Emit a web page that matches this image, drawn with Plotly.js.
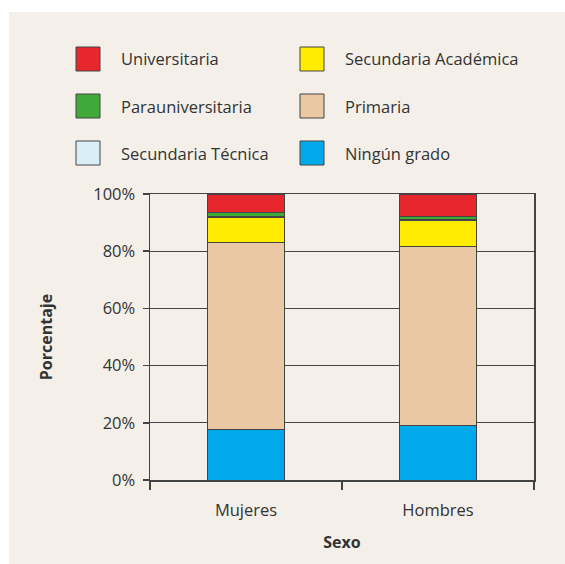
<!DOCTYPE html>
<html>
<head>
<meta charset="utf-8">
<script src="https://cdn.plot.ly/plotly-3.0.1.min.js"></script>
<style>html,body{margin:0;padding:0;background:#F4F0E9;overflow:hidden;}#chart{width:565px;height:564px;}</style>
</head>
<body>
<div id="chart"></div>
<script>
// Data
const categories = ["Mujeres", "Hombres"];
const seriesNames = ["Ningún grado", "Primaria", "Secundaria Académica", "Secundaria Técnica", "Parauniversitaria", "Universitaria"];
const ningunGrado = [17.7, 19.0];
const primaria = [65.3, 62.8];
const secAcademica = [8.7, 8.8];
const secTecnica = [0.5, 0.5];
const parauniversitaria = [1.5, 1.2];
const universitaria = [6.3, 7.7];
const yTickVals = [0, 20, 40, 60, 80, 100];
const yTickText = ["0%", "20%", "40%", "60%", "80%", "100%"];
const legendOrder = ["Universitaria", "Secundaria Académica", "Parauniversitaria", "Primaria", "Secundaria Técnica", "Ningún grado"];

const colors = {
  "Ningún grado": "#00A9E9",
  "Primaria": "#EBC8A4",
  "Secundaria Académica": "#FFEC00",
  "Secundaria Técnica": "#D9EEF6",
  "Parauniversitaria": "#3FAA3A",
  "Universitaria": "#E8262D"
};
const values = [ningunGrado, primaria, secAcademica, secTecnica, parauniversitaria, universitaria];

const font = "Open Sans, Noto Sans, sans-serif";
const txt = "#333333";
const lineC = "#444444";

const traces = seriesNames.map((n, i) => ({
  type: "bar", name: n, x: categories, y: values[i],
  marker: {color: colors[n], line: {color: lineC, width: 1}},
  width: 0.4, showlegend: false, hoverinfo: "skip"
}));

// layout geometry (pixels)
const W = 565, H = 564, L = 150, R = 31, T = 194, B = 84;
const pw = W - L - R, ph = H - T - B;
const px = x => (x - L) / pw;
const py = y => (H - B - y) / ph;

const shapes = [
  {type: "rect", xref: "paper", yref: "paper", layer: "below",
   x0: px(-20), x1: px(620), y0: py(12), y1: py(-20),
   fillcolor: "#ffffff", line: {width: 0}},
  {type: "rect", xref: "paper", yref: "paper", layer: "below",
   x0: px(-20), x1: px(9), y0: py(620), y1: py(-20),
   fillcolor: "#ffffff", line: {width: 0}}
];
const annotations = [];
const legendCols = [76, 300];
const legendRows = [59, 106, 153];
legendOrder.forEach((n, i) => {
  const c = i % 2, r = Math.floor(i / 2);
  const bx = legendCols[c], cy = legendRows[r];
  shapes.push({type: "rect", xref: "paper", yref: "paper",
    x0: px(bx), x1: px(bx + 24), y0: py(cy + 12), y1: py(cy - 12),
    fillcolor: colors[n], line: {color: lineC, width: 1}});
  annotations.push({xref: "paper", yref: "paper", x: px(bx + 43), y: py(cy),
    xanchor: "left", yanchor: "middle", showarrow: false, text: n,
    font: {family: font, size: 16.5, color: txt}});
});

const layout = {
  width: W, height: H,
  margin: {l: L, r: R, t: T, b: B, pad: 0},
  paper_bgcolor: "#F4F0E9", plot_bgcolor: "rgba(0,0,0,0)",
  barmode: "stack", bargap: 0.6,
  font: {family: font, color: txt},
  xaxis: {
    type: "category", range: [-0.5, 1.5],
    showline: true, linecolor: lineC, linewidth: 1.5, mirror: true,
    ticks: "outside", tickson: "boundaries", ticklen: 8, tickwidth: 1.5, tickcolor: lineC,
    ticklabelstandoff: 15,
    showgrid: false, tickfont: {family: font, size: 16.5, color: txt},
    title: {text: "<b>Sexo</b>", font: {family: font, size: 16, color: txt}, standoff: 16}
  },
  yaxis: {
    range: [0, 100], tickvals: yTickVals, ticktext: yTickText,
    showline: true, linecolor: lineC, linewidth: 1.5, mirror: true,
    ticks: "outside", ticklen: 6, tickwidth: 1.5, tickcolor: lineC,
    ticklabelstandoff: 4,
    showgrid: true, gridcolor: lineC, gridwidth: 1, zeroline: false,
    tickfont: {family: font, size: 16.5, color: txt},
    title: {text: "<b>Porcentaje</b>", font: {family: font, size: 16, color: txt}, standoff: 36}
  },
  shapes: shapes, annotations: annotations
};

Plotly.newPlot("chart", traces, layout, {staticPlot: true});
</script>
</body>
</html>
